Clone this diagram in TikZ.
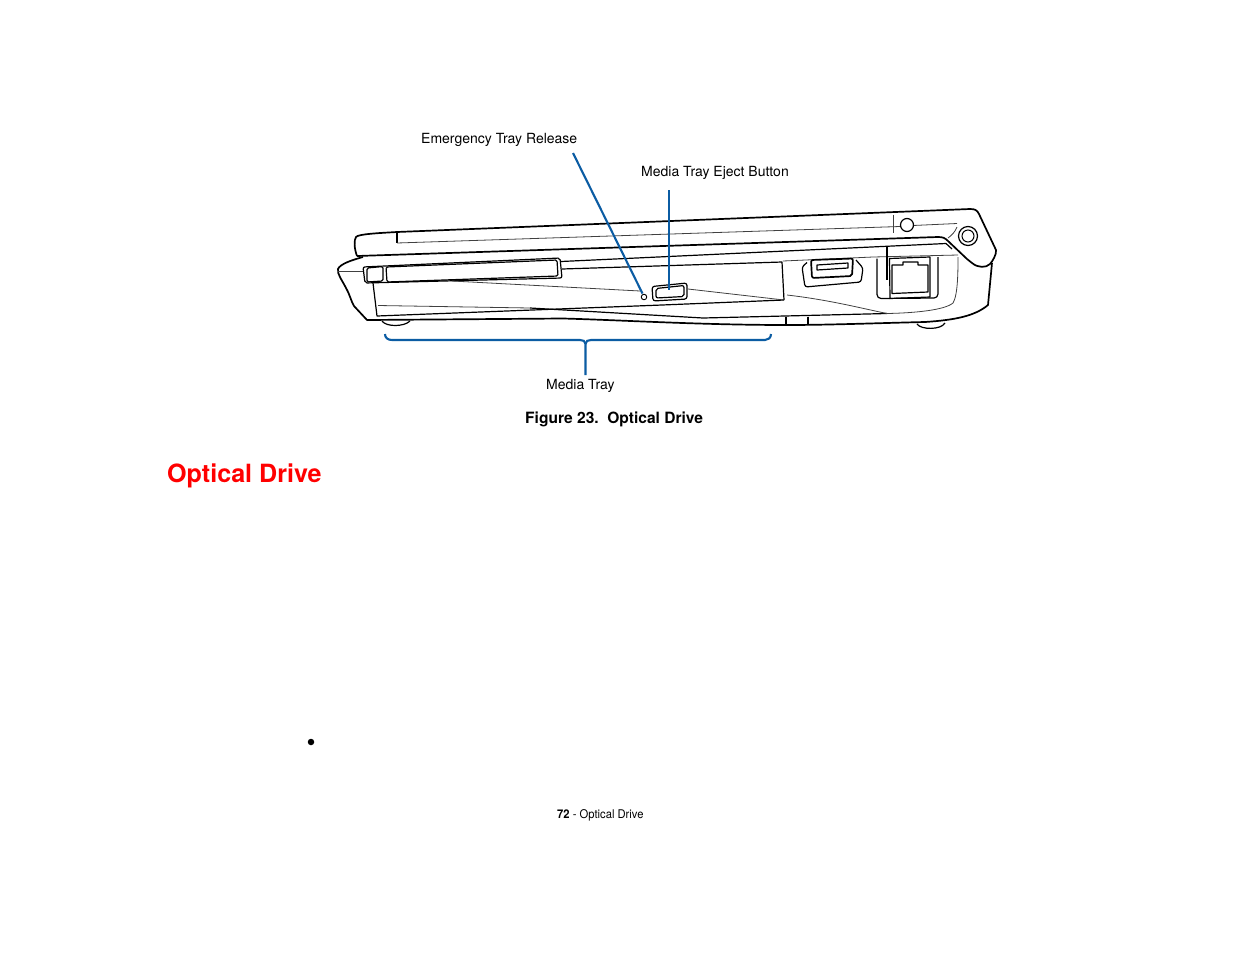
\documentclass[tikz,border=0pt]{standalone}
\usepackage{fontspec}
\setmainfont{TeX Gyre Heros}
\definecolor{leaderblue}{HTML}{0B5CA3}
\tikzset{
  lbl/.style={inner sep=0pt,font=\fontsize{14}{16}\selectfont},
  body/.style={line width=1.7pt,line join=round},
  part/.style={line width=1.2pt,line join=round},
  thin part/.style={line width=0.8pt,black!75},
  leader/.style={draw=leaderblue,line width=2.1pt}
}
\begin{document}
\begin{tikzpicture}[x=1pt,y=-1pt]
  \useasboundingbox (0,0) rectangle (1235,954);
  \node[lbl,anchor=west] (release) at (421,139.5) {Emergency Tray Release};
  \node[lbl,anchor=west] (eject) at (641,172.5) {Media Tray Eject Button};
  \node[lbl,anchor=west] (tray) at (546,385.5) {Media Tray};
  \node[inner sep=0pt,anchor=west,font=\bfseries\fontsize{15.55}{18}\selectfont] (caption) at (525,419) {Figure 23.\ \ Optical Drive};
  \node[inner sep=0pt,anchor=west,text=red,font=\bfseries\fontsize{25.1}{30}\selectfont] (title) at (167,475.5) {Optical Drive};
  \node[circle,fill=black,inner sep=0pt,minimum size=6.5pt] (bullet) at (311,742) {};
  \node[inner sep=0pt,anchor=west,font=\fontsize{12}{14}\selectfont] (footer) at (557,815) {\scalebox{0.935}[1]{\textbf{72} - Optical Drive}};

  \draw[body] (357,256) .. controls (354,248) and (354,240) .. (356,237) .. controls (358,234) and (380,233) .. (397,232) -- (970,209) .. controls (975,209) and (977,210) .. (979,214) -- (996,250) .. controls (997,254) and (992,262) .. (990,264) .. controls (986,268) and (978,268) .. (972,263) -- (967,259) -- (948,241) .. controls (945,238) and (943,237) .. (938,237) -- (357,256);
  \draw[part] (397,232) -- (397,243);
  \draw[thin part] (397,243) -- (900,226.5);
  \draw[thin part] (913,225.5) -- (957,223.5);
  \draw[thin part] (893,214.5) -- (893,233);
  \draw[thin part] (957,227) .. controls (955,232) and (952,235) .. (948,238);
  \node[circle,draw,line width=1.2pt,inner sep=0pt,minimum size=13pt] (lock) at (907,225) {};
  \node[circle,draw,line width=1.2pt,inner sep=0pt,minimum size=19pt] (knobout) at (968,236) {};
  \node[circle,draw,line width=1pt,inner sep=0pt,minimum size=12pt] (knobin) at (968,236) {};

  \draw[body] (363,257) .. controls (352,260) and (340,264) .. (338,269) .. controls (337,274) and (342,280) .. (346,288) .. controls (350,295) and (351,301) .. (354,306) -- (367,320) -- (563,318.5) .. controls (620,320) and (700,325) .. (787,325) .. controls (830,325) and (880,323) .. (925,322) .. controls (955,320) and (975,316) .. (988,305) -- (992,263);
  \draw[thin part] (338,271) -- (363,271);
  \draw[part] (561,261.5) -- (658,257) -- (946,243.5) -- (952,249);
  \draw[part] (562,269) -- (782,262) -- (784,300);
  \draw[thin part] (783,261) -- (873,257) -- (958,255);

  \draw[part,rounded corners=2pt] (363,267) -- (560,258) -- (562,278) -- (365,283) -- cycle;
  \draw[part,rounded corners=1.5pt] (367,268) -- (383,266.5) -- (383,281) -- (367,282) -- cycle;
  \draw[part,rounded corners=1.5pt] (386,267) -- (557,260) -- (558,276) -- (387,282) -- cycle;
  \draw[part] (373,283) -- (377,316) -- (662,305) -- (784,300);
  \draw[thin part] (378,305.5) -- (530,308);
  \draw[part] (530,308) -- (703,318) -- (887,313.5);
  \draw[thin part] (452,281) -- (640,291);
  \draw[thin part] (688,289) -- (784,300);
  \draw[thin part] (787,295) .. controls (830,300) and (860,308) .. (887,313.5);
  \draw[part] (786,317) -- (786,324.5);
  \draw[part] (808,316.5) -- (808,324.5);
  \draw[part] (382,321) .. controls (386,327) and (404,327) .. (410,321);
  \draw[part] (917,324) .. controls (921,330) and (941,330) .. (945,323);
  \draw[thin part] (887,313.5) .. controls (915,313) and (945,310) .. (953,303) .. controls (958,295) and (958,270) .. (958,257);

  \node[circle,draw,line width=0.9pt,inner sep=0pt,minimum size=5.5pt] (led) at (644,297) {};
  \draw[part,rounded corners=2.5pt] (652,286.5) -- (687,283) -- (687,299) -- (653,301) -- cycle;
  \draw[part,rounded corners=2pt] (656,288.5) -- (684,285.5) -- (684,296.5) -- (656,298) -- cycle;

  \draw[part,rounded corners=2.5pt] (807,262.5) -- (802,267) -- (805,287) -- (861,282) -- (863,268) -- (856,260);
  \draw[body,rounded corners=2pt,fill=white] (811,260) -- (853,258.5) -- (852,276) -- (812,278) -- cycle;
  \draw[part] (817,265) -- (848,263) -- (848,268) -- (817,270) -- cycle;

  \draw[part,rounded corners=4pt] (877,258.5) -- (877,298.5) -- (938,298) -- (938,257);
  \draw[part] (887,247) -- (887,280);
  \draw[part] (889.5,258.5) -- (930,257) -- (930,297) -- (890,298.5) -- cycle;
  \draw[part] (892,265) -- (903,265) -- (903,262) -- (918,262) -- (918,265) -- (928,265) -- (928,292) -- (892,293.5) -- cycle;

  \coordinate (releasetop) at (573,153);
  \coordinate (ejecttop) at (669,190);
  \coordinate (ejectend) at (669,290);
  \coordinate (ledend) at (642.5,293.5);
  \coordinate (bracketleft) at (385,334);
  \coordinate (bracketright) at (771,334);
  \coordinate (bracketmid) at (585.5,344);
  \coordinate (traytop) at (585.5,375);
  \draw[leader] (releasetop) -- (ledend);
  \draw[leader] (ejecttop) -- (ejectend);
  \draw[leader] (traytop) -- (bracketmid) .. controls (585.5,341) and (583,340) .. (580,340) -- (392,340) .. controls (388,340) and (385,338) .. (bracketleft);
  \draw[leader] (bracketmid) .. controls (585.5,341) and (588,340) .. (591,340) -- (765,340) .. controls (768,340) and (771,338) .. (bracketright);
\end{tikzpicture}
\end{document}
